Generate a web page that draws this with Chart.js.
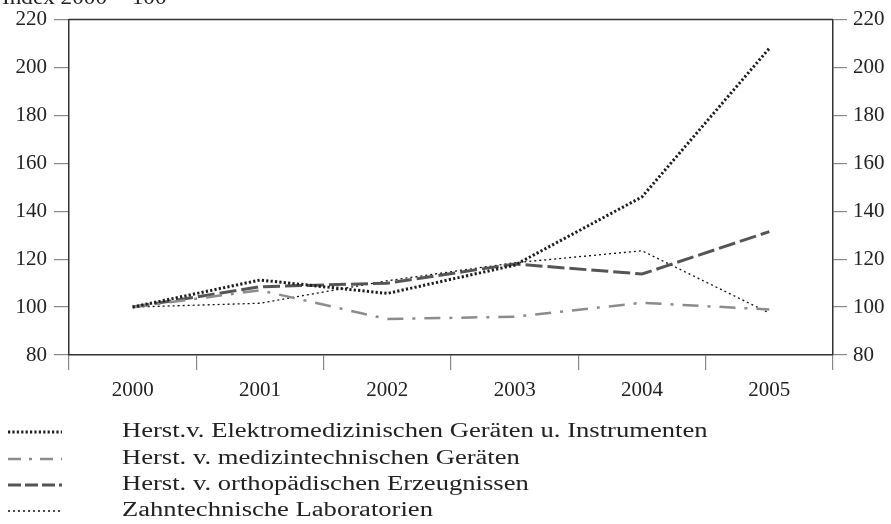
<!DOCTYPE html>
<html>
<head>
<meta charset="utf-8">
<script src="https://cdn.jsdelivr.net/npm/chart.js@4.4.1/dist/chart.umd.min.js"></script>
<style>
  html, body { margin: 0; padding: 0; background: #fff; }
  #wrap { width: 891px; height: 524px; }
</style>
</head>
<body>
<div id="wrap"><canvas id="chart" width="891" height="524"></canvas></div>
<script>
const years = ['2000', '2001', '2002', '2003', '2004', '2005'];
const yTicks = [80, 100, 120, 140, 160, 180, 200, 220];

const elektro = [100, 111.3, 105.7, 117.5, 146, 208];
const medizin = [100, 107, 95, 96, 101.8, 99];
const ortho = [100, 108.5, 110, 118, 113.8, 131.5];
const zahn = [100, 101.6, 111, 118.5, 123.5, 97.5];

const seriesNames = [
    'Herst.v. Elektromedizinischen Geräten u. Instrumenten',
    'Herst. v. medizintechnischen Geräten',
    'Herst. v. orthopädischen Erzeugnissen',
    'Zahntechnische Laboratorien'
];

const FONT = "'Liberation Serif', 'DejaVu Serif', serif";

// the print font is wider than Liberation Serif, so stretch text a bit
function wideText(ctx, text, x, y, sx) {
    ctx.save();
    ctx.translate(x, y);
    ctx.scale(sx, 1);
    ctx.fillText(text, 0, 0);
    ctx.restore();
}

// top border + index note + legend below the plot
const extras = {
    id: 'extras',
    afterDraw(chart) {
        const ctx = chart.ctx;
        const area = chart.chartArea;
        ctx.save();
        ctx.strokeStyle = '#333';
        ctx.lineWidth = 1.5;
        ctx.beginPath();
        ctx.moveTo(area.left, area.top);
        ctx.lineTo(area.right, area.top);
        ctx.stroke();

        ctx.fillStyle = '#222';
        ctx.font = '20px ' + FONT;
        ctx.textBaseline = 'alphabetic';
        wideText(ctx, 'Index 2000 = 100', 2, 4, 1.16);

        // legend
        const rows = [432, 459, 485, 511];
        ctx.font = '20px ' + FONT;
        ctx.textBaseline = 'middle';
        chart.data.datasets.forEach((ds, i) => {
            ctx.strokeStyle = ds.borderColor;
            ctx.lineWidth = ds.borderWidth;
            ctx.setLineDash(ds.legendDash || ds.borderDash);
            ctx.beginPath();
            ctx.moveTo(8, rows[i]);
            ctx.lineTo(62, rows[i]);
            ctx.stroke();
            ctx.setLineDash([]);
            ctx.fillStyle = '#222';
            wideText(ctx, ds.label, 122, rows[i], 1.33);
        });
        ctx.restore();
    }
};

new Chart(document.getElementById('chart'), {
    type: 'line',
    data: {
        labels: years,
        datasets: [
            {
                label: seriesNames[0],
                data: elektro,
                borderColor: '#1e1e1e',
                borderWidth: 3,
                borderDash: [2.2, 2.2],
                yAxisID: 'y'
            },
            {
                label: seriesNames[1],
                data: medizin,
                borderColor: '#8c8c8c',
                borderWidth: 2.5,
                borderDash: [16, 9, 3, 9],
                legendDash: [13, 8, 3, 8],
                yAxisID: 'y'
            },
            {
                label: seriesNames[2],
                data: ortho,
                borderColor: '#555555',
                borderWidth: 3,
                borderDash: [17, 5],
                legendDash: [13, 4],
                yAxisID: 'y'
            },
            {
                label: seriesNames[3],
                data: zahn,
                borderColor: '#111111',
                borderWidth: 1.3,
                borderDash: [2, 3],
                yAxisID: 'y'
            }
        ]
    },
    options: {
        responsive: false,
        animation: false,
        events: [],
        layout: { padding: 0 },
        elements: {
            point: { radius: 0 },
            line: { tension: 0, borderCapStyle: 'butt' }
        },
        plugins: {
            legend: { display: false },
            tooltip: { enabled: false }
        },
        scales: {
            x: {
                type: 'category',
                offset: true,
                grid: {
                    offset: true,
                    drawOnChartArea: false,
                    tickLength: 15,
                    color: '#888',
                    lineWidth: 1.2
                },
                border: { color: '#333', width: 1.5 },
                ticks: {
                    color: '#222',
                    padding: 8,
                    maxRotation: 0,
                    font: { family: FONT, size: 21 }
                },
                afterFit: s => { s.height = 169; }
            },
            y: {
                position: 'left',
                min: 80,
                max: 220,
                afterBuildTicks: s => { s.ticks = yTicks.map(v => ({ value: v })); },
                grid: {
                    drawOnChartArea: false,
                    tickLength: 15,
                    color: '#888',
                    lineWidth: 1.2
                },
                border: { color: '#333', width: 1.5 },
                ticks: {
                    color: '#222',
                    padding: 7,
                    font: { family: FONT, size: 21 }
                },
                afterFit: s => { s.width = 69; }
            },
            y2: {
                position: 'right',
                min: 80,
                max: 220,
                afterBuildTicks: s => { s.ticks = yTicks.map(v => ({ value: v })); },
                grid: {
                    drawOnChartArea: false,
                    tickLength: 14,
                    color: '#888',
                    lineWidth: 1.2
                },
                border: { color: '#333', width: 1.5 },
                ticks: {
                    color: '#222',
                    padding: 6,
                    font: { family: FONT, size: 21 }
                },
                afterFit: s => { s.width = 58; }
            }
        }
    },
    plugins: [extras]
});
</script>
</body>
</html>
